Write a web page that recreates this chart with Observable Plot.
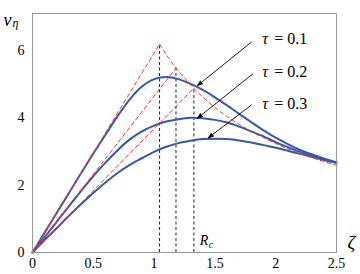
<!DOCTYPE html>
<html>
<head>
<meta charset="utf-8">
<script src="https://cdn.jsdelivr.net/npm/d3@7"></script>
<script src="https://cdn.jsdelivr.net/npm/@observablehq/plot@0.6"></script>
<style>
  html, body { margin: 0; padding: 0; background: #fff; }
  #chart { width: 360px; height: 274px; }
</style>
</head>
<body>
<div id="chart"></div>
<script>
// sample positions ζ
const zeta = [0,0.1,0.2,0.3,0.4,0.5,0.6,0.7,0.8,0.9,1.0,1.1,1.2,1.3,1.4,1.5,1.6,1.7,1.8,1.9,2.0,2.1,2.2,2.3,2.4,2.5];
// blue curves v_η
const tau01 = [0,0.59,1.18,1.77,2.36,2.94,3.5,4.05,4.55,4.93,5.15,5.21,5.15,5.01,4.83,4.61,4.37,4.12,3.87,3.63,3.41,3.22,3.05,2.91,2.79,2.68];
const tau02 = [0,0.46,0.92,1.38,1.83,2.27,2.67,3.04,3.36,3.6,3.77,3.89,3.96,4.0,3.99,3.94,3.86,3.74,3.6,3.45,3.28,3.13,2.99,2.87,2.77,2.67];
const tau03 = [0,0.37,0.73,1.09,1.44,1.77,2.08,2.36,2.6,2.8,2.99,3.14,3.25,3.32,3.37,3.38,3.37,3.33,3.27,3.19,3.11,3.02,2.93,2.84,2.75,2.66];
const tauNames = ["0.1","0.2","0.3"];
// red dashed: tangent peaks and outer branch
const peakZeta = [1.045, 1.18, 1.327];
const peakV = [6.19, 5.48, 4.88];
const farZeta = [1.045,1.1,1.18,1.25,1.327,1.4,1.5,1.6,1.7,1.8,1.9,2.0,2.1,2.2,2.3,2.4,2.5];
const farV = [6.19,5.88,5.48,5.18,4.88,4.62,4.31,4.04,3.81,3.59,3.41,3.24,3.08,2.94,2.81,2.70,2.59];
// annotation arrows
const arrowX1 = [1.80, 1.81, 1.80];
const arrowY1 = [6.25, 5.30, 4.38];
const arrowX2 = [1.357, 1.357, 1.447];
const arrowY2 = [4.96, 3.99, 3.41];
const labelX = [1.89, 1.89, 1.89];
const labelY = [6.34, 5.36, 4.43];
// ticks
const xTicks = [0, 0.5, 1, 1.5, 2, 2.5];
const yTicks = [0, 2, 4, 6];

const blue = "#3a57a7";
const red = "#f0333b";
const serif = "Liberation Serif";

const curves = [];
[tau01, tau02, tau03].forEach((arr, k) => {
  arr.forEach((v, i) => curves.push({x: zeta[i], y: v, k: tauNames[k]}));
});
const tangents = [];
peakZeta.forEach((z, k) => {
  tangents.push({x: 0, y: 0, k});
  tangents.push({x: z, y: peakV[k], k});
});
const far = farZeta.map((z, i) => ({x: z, y: farV[i]}));
const peaks = peakZeta.map((z, i) => ({x: z, y: peakV[i]}));
const arrows = arrowX1.map((x, i) => ({x1: x, y1: arrowY1[i], x2: arrowX2[i], y2: arrowY2[i]}));
const labels = labelX.map((x, i) => ({x, y: labelY[i], t: tauNames[i]}));

const chart = Plot.plot({
  width: 360,
  height: 274,
  marginLeft: 32,
  marginRight: 24,
  marginTop: 13,
  marginBottom: 22,
  style: {background: "white", color: "black"},
  x: {domain: [0, 2.5]},
  y: {domain: [0, 7.1]},
  marks: [
    Plot.axisX({ticks: xTicks, tickFormat: d => String(d), tickSize: 0, tickPadding: 6, label: null, fontFamily: serif, fontSize: 14}),
    Plot.axisY({ticks: yTicks, tickFormat: d => String(d), tickSize: 0, tickPadding: 8, label: null, fontFamily: serif, fontSize: 14}),
    Plot.ruleX(peaks, {x: "x", y1: 0, y2: "y", stroke: "#222", strokeWidth: 1, strokeDasharray: "3,2.5"}),
    Plot.line(curves, {x: "x", y: "y", z: "k", stroke: blue, strokeWidth: 2, curve: "catmull-rom"}),
    Plot.line(tangents, {x: "x", y: "y", z: "k", stroke: red, strokeWidth: 1, strokeDasharray: "4,3"}),
    Plot.line(far, {x: "x", y: "y", stroke: red, strokeWidth: 1, strokeDasharray: "4,3", curve: "catmull-rom"}),
    Plot.arrow(arrows, {x1: "x1", y1: "y1", x2: "x2", y2: "y2", stroke: "black", fill: "black", strokeWidth: 0.9, headLength: 9, headAngle: 40}),
    Plot.text(labels, {x: "x", y: "y", text: () => "τ", textAnchor: "start", fontStyle: "italic", fontSize: 16, fontFamily: serif}),
    Plot.text(labels, {x: "x", y: "y", text: d => "= " + d.t, textAnchor: "start", dx: 12, fontSize: 16, fontFamily: serif}),
    Plot.text(["R"], {x: peakZeta[2], y: 0.36, text: d => d, dx: 6, textAnchor: "start", fontStyle: "italic", fontSize: 14, fontFamily: serif}),
    Plot.text(["c"], {x: peakZeta[2], y: 0.36, text: d => d, dx: 15, dy: 4, textAnchor: "start", fontStyle: "italic", fontSize: 10, fontFamily: serif}),
    Plot.text(["v"], {frameAnchor: "top-left", text: d => d, dx: -29, dy: 0, textAnchor: "start", fontStyle: "italic", fontSize: 18, fontFamily: serif}),
    Plot.text(["η"], {frameAnchor: "top-left", text: d => d, dx: -20, dy: 5, textAnchor: "start", fontStyle: "italic", fontSize: 12, fontFamily: serif}),
    Plot.text(["ζ"], {frameAnchor: "bottom-right", text: d => d, dx: 11, dy: -4, textAnchor: "start", fontStyle: "italic", fontSize: 19, fontFamily: serif}),
    Plot.frame({stroke: "#999", strokeWidth: 1})
  ]
});
document.getElementById("chart").appendChild(chart);
</script>
</body>
</html>
